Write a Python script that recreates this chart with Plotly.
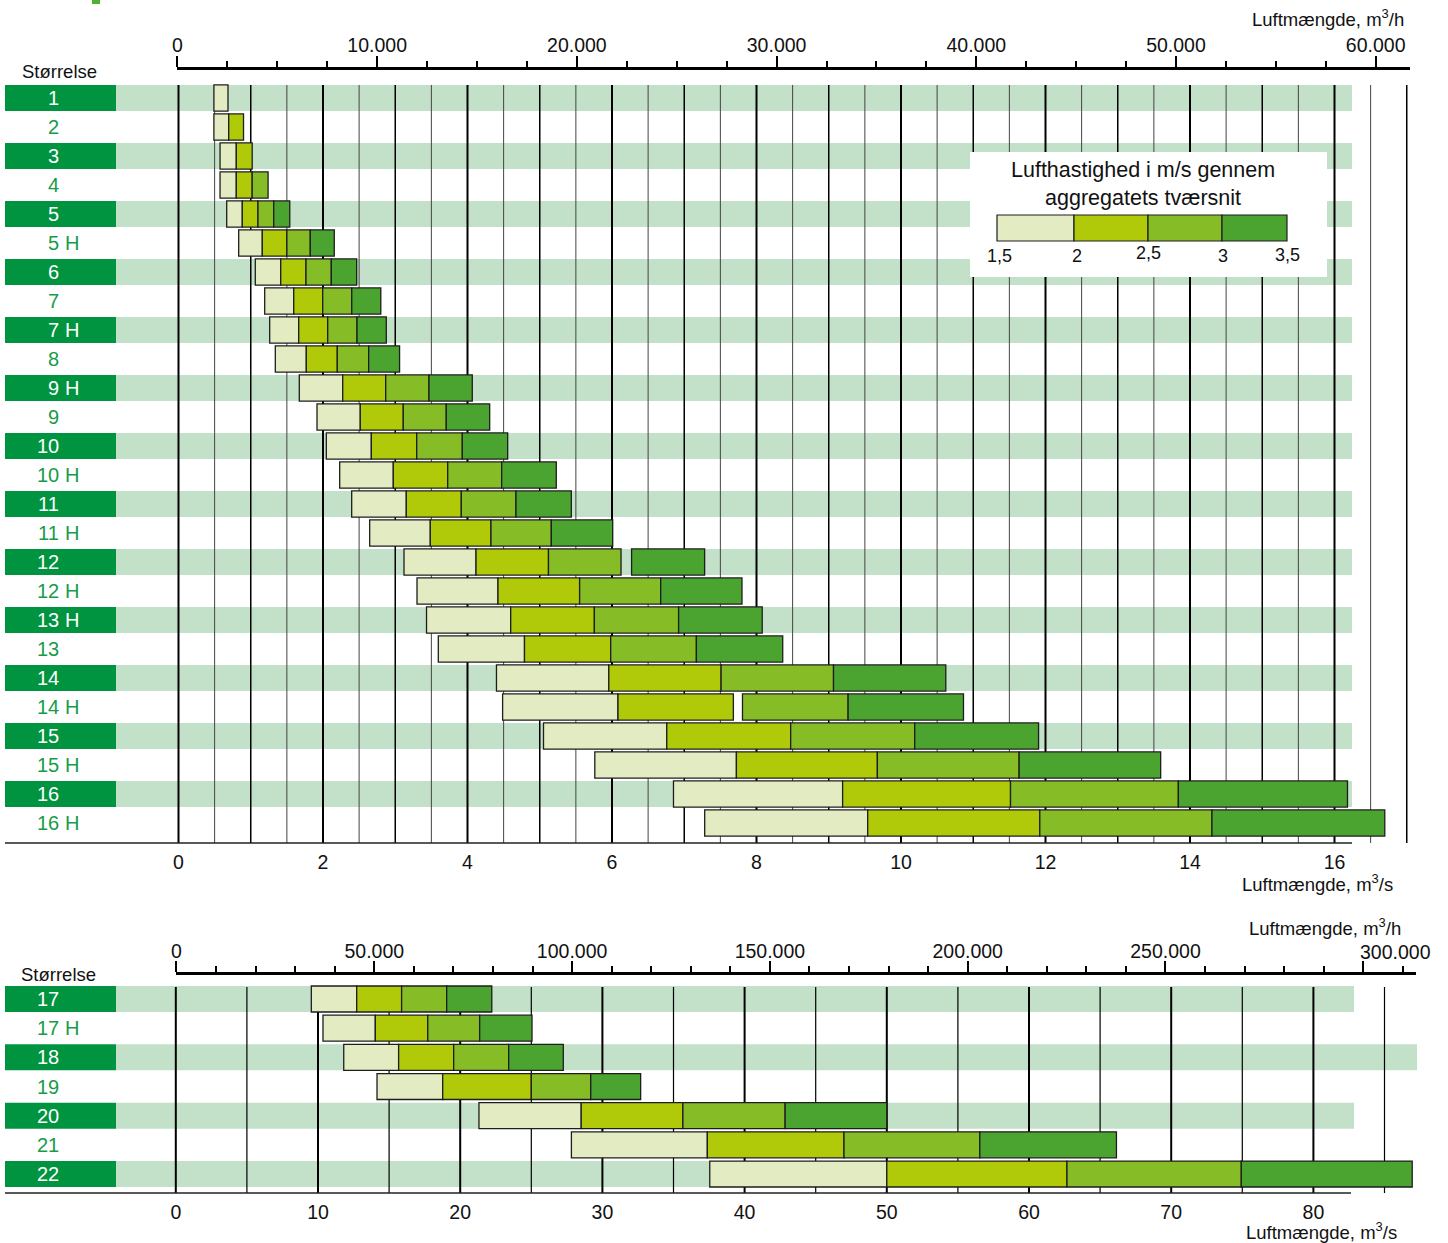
import plotly.graph_objects as go

W, H = 1448, 1243
FONT = "Liberation Sans, Arial, Helvetica, sans-serif"

# ---------------- colours ----------------
C_BAND = ["#E2EBC1", "#B0CA0A", "#86BC25", "#4BA330"]
C_BOX = "#009440"
C_STRIPE = "#C3E0C8"
C_LABEL = "#169C48"
C_EDGE = "#1e1e1e"

# ---------------- data ----------------
band_names = ["1,5–2 m/s", "2–2,5 m/s", "2,5–3 m/s", "3–3,5 m/s"]
legend_labels = ["1,5", "2", "2,5", "3", "3,5"]

# top panel: sizes 1 .. 16 H, flow in m³/s at each velocity band edge
sizes_top = ["1", "2", "3", "4", "5", "5 H", "6", "7", "7 H", "8", "9 H", "9", "10", "10 H",
             "11", "11 H", "12", "12 H", "13 H", "13", "14", "14 H", "15", "15 H", "16", "16 H"]
top_start_15 = [0.49, 0.49, 0.575, 0.575, 0.667, 0.833, 1.063, 1.193, 1.262, 1.340, 1.672, 1.917, 2.046,
                2.231, 2.397, 2.646, 3.121, 3.301, 3.433, 3.596, 4.401, 4.486, 5.052, 5.762, 6.851, 7.283]
top_end_15 = [0.685, 0.695, 0.80, 0.80, 0.883, 1.16, 1.415, 1.595, 1.664, 1.769, 2.273, 2.516, 2.669,
              2.973, 3.153, 3.485, 4.118, 4.422, 4.598, 4.789, 5.956, 6.083, 6.758, 7.722, 9.192, 9.539]
top_start_20 = [None, 0.695, 0.80, 0.80, 0.883, 1.16, 1.415, 1.595, 1.664, 1.769, 2.273, 2.516, 2.669,
                2.973, 3.153, 3.485, 4.118, 4.422, 4.598, 4.789, 5.956, 6.083, 6.758, 7.722, 9.192, 9.539]
top_end_20 = [None, 0.90, 1.02, 1.02, 1.10, 1.50, 1.765, 1.996, 2.065, 2.198, 2.868, 3.111, 3.297,
              3.726, 3.914, 4.325, 5.121, 5.552, 5.756, 5.982, 7.510, 7.680, 8.473, 9.673, 11.516, 11.921]
top_start_25 = [None, None, None, 1.02, 1.10, 1.50, 1.765, 1.996, 2.065, 2.198, 2.868, 3.111, 3.297,
                3.726, 3.914, 4.325, 5.121, 5.552, 5.756, 5.982, 7.510, 7.806, 8.473, 9.673, 11.516, 11.921]
top_end_25 = [None, None, None, 1.24, 1.318, 1.824, 2.115, 2.398, 2.471, 2.632, 3.467, 3.706, 3.928,
              4.473, 4.671, 5.160, 6.125, 6.674, 6.922, 7.168, 9.066, 9.268, 10.190, 11.635, 13.839, 14.304]
top_start_30 = [None, None, None, None, 1.318, 1.824, 2.115, 2.398, 2.471, 2.632, 3.467, 3.706, 3.928,
                4.473, 4.671, 5.160, 6.271, 6.674, 6.922, 7.168, 9.066, 9.268, 10.190, 11.635, 13.839, 14.304]
top_end_30 = [None, None, None, None, 1.54, 2.156, 2.466, 2.80, 2.876, 3.06, 4.066, 4.307, 4.556,
              5.229, 5.437, 6.010, 7.282, 7.799, 8.079, 8.363, 10.620, 10.865, 11.904, 13.594, 16.180, 16.696]

# bottom panel: sizes 17 .. 22
sizes_bot = ["17", "17 H", "18", "19", "20", "21", "22"]
bot_start_15 = [9.53, 10.35, 11.81, 14.15, 21.32, 27.82, 37.55]
bot_end_15 = [12.72, 14.03, 15.67, 18.77, 28.51, 37.38, 50.0]
bot_start_20 = [12.72, 14.03, 15.67, 18.77, 28.51, 37.38, 50.0]
bot_end_20 = [15.88, 17.72, 19.54, 25.0, 35.66, 46.99, 62.67]
bot_start_25 = [15.88, 17.72, 19.54, 25.0, 35.66, 46.99, 62.67]
bot_end_25 = [19.05, 21.37, 23.41, 29.18, 42.85, 56.54, 74.93]
bot_start_30 = [19.05, 21.37, 23.41, 29.18, 42.85, 56.54, 74.93]
bot_end_30 = [22.22, 25.05, 27.25, 32.69, 50.0, 66.15, 86.95]

# axis ticks
top_ms_ticks = [0, 2, 4, 6, 8, 10, 12, 14, 16]
top_mh_ticks = [0, 10000, 20000, 30000, 40000, 50000, 60000]
top_mh_labels = ["0", "10.000", "20.000", "30.000", "40.000", "50.000", "60.000"]
bot_ms_ticks = [0, 10, 20, 30, 40, 50, 60, 70, 80]
bot_mh_ticks = [0, 50000, 100000, 150000, 200000, 250000, 300000]
bot_mh_labels = ["0", "50.000", "100.000", "150.000", "200.000", "250.000", ""]
bot_mh_last_label = "300.000"

# ---------------- geometry (target pixels of the 1448x1243 picture) ----------------
TX0, TSC = 178.5, 72.25      # top panel: px of 0 m³/s, px per m³/s
BX0, BSC = 175.8, 14.22      # bottom panel
TROW0, TROWH = 98.0, 29.0    # top panel row centre / pitch
BROW0, BROWH = 999.0, 29.17  # bottom panel
S_LEFT, S_SCALE = 5.0, 0.99655   # observed horizontal placement of the page in the photo
S_RIGHT = S_LEFT + S_SCALE * W


def sx(x):
    return (x - S_LEFT) / S_SCALE


def px(x):
    return sx(x) / W


def py(y):
    return 1 - y / H


def seg(starts, ends):
    return [None if (s is None or e is None) else e - s for s, e in zip(starts, ends)]


fig = go.Figure()

top_bands = [(top_start_15, top_end_15), (top_start_20, top_end_20),
             (top_start_25, top_end_25), (top_start_30, top_end_30)]
bot_bands = [(bot_start_15, bot_end_15), (bot_start_20, bot_end_20),
             (bot_start_25, bot_end_25), (bot_start_30, bot_end_30)]

for k, (s, e) in enumerate(top_bands):
    fig.add_trace(go.Bar(orientation="h", y=list(range(len(sizes_top))), base=s, x=seg(s, e),
                         width=0.9, name=band_names[k], xaxis="x", yaxis="y",
                         marker=dict(color=C_BAND[k], line=dict(color=C_EDGE, width=1.3)),
                         showlegend=False, hoverinfo="skip"))
for k, (s, e) in enumerate(bot_bands):
    fig.add_trace(go.Bar(orientation="h", y=list(range(len(sizes_bot))), base=s, x=seg(s, e),
                         width=0.89, name=band_names[k], xaxis="x2", yaxis="y2",
                         marker=dict(color=C_BAND[k], line=dict(color=C_EDGE, width=1.3)),
                         showlegend=False, hoverinfo="skip"))

# invisible anchors so the m³/h axes get drawn
fig.add_trace(go.Scatter(x=[1000], y=[0], xaxis="x3", yaxis="y", mode="markers",
                         marker=dict(opacity=0), hoverinfo="skip", showlegend=False))
fig.add_trace(go.Scatter(x=[1000], y=[0], xaxis="x4", yaxis="y2", mode="markers",
                         marker=dict(opacity=0), hoverinfo="skip", showlegend=False))

shapes = []
annotations = []


def panel_rows(sizes, yref, half, stripe_right):
    for i, s in enumerate(sizes):
        dark = (i % 2 == 0)
        if dark:
            shapes.append(dict(type="rect", xref="paper", yref=yref, x0=px(116), x1=px(stripe_right[i]),
                               y0=i - half, y1=i + half, fillcolor=C_STRIPE, line=dict(width=0), layer="below"))
            shapes.append(dict(type="rect", xref="paper", yref=yref, x0=px(5), x1=px(116),
                               y0=i - half, y1=i + half, fillcolor=C_BOX, line=dict(width=0), layer="below"))
        col = "white" if dark else C_LABEL
        parts = s.split(" ")
        annotations.append(dict(text=parts[0], xref="paper", yref=yref, x=px(61), y=i,
                                xanchor="right", yanchor="middle", showarrow=False,
                                font=dict(size=20, color=col, family=FONT)))
        if len(parts) > 1:
            annotations.append(dict(text=parts[1], xref="paper", yref=yref, x=px(63), y=i,
                                    xanchor="left", yanchor="middle", showarrow=False,
                                    font=dict(size=20, color=col, family=FONT)))


panel_rows(sizes_top, "y", 0.45, [1352] * len(sizes_top))
panel_rows(sizes_bot, "y2", 0.445, [1354, 1354, 1417, 1354, 1354, 1354, 1354])

# vertical grid lines (drawn over stripes, under bars)
for k in range(35):
    v = k * 0.5
    if v == int(v):
        wdt, col = (2.0 if int(v) % 2 == 0 else 1.5), "#000000"
    else:
        wdt, col = 1.0, "#444444"
    shapes.append(dict(type="line", xref="x", yref="paper", x0=v, x1=v, y0=py(843), y1=py(85),
                       line=dict(color=col, width=wdt), layer="below"))
for k in range(18):
    v = k * 5
    wdt = 2.0 if v % 10 == 0 else 1.2
    shapes.append(dict(type="line", xref="x2", yref="paper", x0=v, x1=v, y0=py(1193), y1=py(987),
                       line=dict(color="#000000", width=wdt), layer="below"))

# bottom axis lines
shapes.append(dict(type="line", xref="paper", yref="paper", x0=px(5), x1=px(1352), y0=py(843), y1=py(843),
                   line=dict(color="#222222", width=1.6), layer="below"))
shapes.append(dict(type="line", xref="paper", yref="paper", x0=px(5), x1=px(1351), y0=py(1193), y1=py(1193),
                   line=dict(color="#222222", width=1.6), layer="below"))

# small green mark top-left
shapes.append(dict(type="rect", xref="paper", yref="paper", x0=px(92), x1=px(100), y0=py(4), y1=py(0),
                   fillcolor="#52AE34", line=dict(width=0), layer="above"))

# legend box
shapes.append(dict(type="rect", xref="paper", yref="paper", x0=px(970), x1=px(1327), y0=py(277), y1=py(152),
                   fillcolor="white", line=dict(width=0), layer="above"))
leg_x = [997, 1074, 1148, 1222, 1287]
for k in range(4):
    shapes.append(dict(type="rect", xref="paper", yref="paper", x0=px(leg_x[k]), x1=px(leg_x[k + 1]),
                       y0=py(241), y1=py(215), fillcolor=C_BAND[k],
                       line=dict(color=C_EDGE, width=1.2), layer="above"))
annotations.append(dict(text="Lufthastighed i m/s gennem<br>aggregatets tværsnit", xref="paper", yref="paper",
                        x=px(1143), y=py(184), xanchor="center", yanchor="middle", showarrow=False,
                        font=dict(size=21.5, color="#111111", family=FONT)))
leg_lab_x = [1000, 1077, 1149, 1223, 1288]
leg_lab_y = [256, 256, 253, 256, 255]
for k, t in enumerate(legend_labels):
    annotations.append(dict(text=t, xref="paper", yref="paper", x=px(leg_lab_x[k]), y=py(leg_lab_y[k]),
                            xanchor="center", yanchor="middle", showarrow=False,
                            font=dict(size=18, color="#111111", family=FONT)))

# texts
for (t, x, y, xa) in [("Størrelse", 60, 72, "center"), ("Størrelse", 59, 974, "center"),
                      ("Luftmængde, m<sup>3</sup>/h", 1406, 18, "right"),
                      ("Luftmængde, m<sup>3</sup>/s", 1395, 883, "right"),
                      ("Luftmængde, m<sup>3</sup>/h", 1403, 927, "right"),
                      ("Luftmængde, m<sup>3</sup>/s", 1399, 1231, "right")]:
    annotations.append(dict(text=t, xref="paper", yref="paper", x=px(x), y=py(y), xanchor=xa,
                            yanchor="middle", showarrow=False, font=dict(size=18.5, color="#111111", family=FONT)))
# last m³/h label of the lower panel sits to the right of its tick
annotations.append(dict(text=bot_mh_last_label, xref="paper", yref="paper", x=px(1396), y=py(952),
                        xanchor="center", yanchor="middle", showarrow=False,
                        font=dict(size=19.5, color="#111111", family=FONT)))

tickfont = dict(size=19.5, color="#111111", family=FONT)
hidden_y = dict(showticklabels=False, showgrid=False, zeroline=False, showline=False, ticks="")

fig.update_layout(
    width=W, height=H, margin=dict(l=0, r=0, t=0, b=0),
    paper_bgcolor="white", plot_bgcolor="rgba(0,0,0,0)",
    barmode="overlay", showlegend=False, font=dict(family=FONT, size=19, color="#111111"),
    xaxis=dict(domain=[0, 1], range=[(S_LEFT - TX0) / TSC, (S_RIGHT - TX0) / TSC], anchor="y",
               tickmode="array", tickvals=top_ms_ticks, ticktext=[str(v) for v in top_ms_ticks],
               ticks="", showline=False, showgrid=False, zeroline=False, tickfont=tickfont,
               ticklabelstandoff=5),
    yaxis=dict(domain=[py(843), py(70)], range=[(843 - TROW0) / TROWH, (70 - TROW0) / TROWH], **hidden_y),
    xaxis3=dict(domain=[px(177.5), px(1410)], range=[0, (1410 - 177.5) / 0.01997], anchor="y", side="top",
                tickmode="array", tickvals=top_mh_ticks, ticktext=top_mh_labels,
                ticks="outside", ticklen=11, tickwidth=2, tickcolor="black",
                showline=True, linewidth=3, linecolor="black", showgrid=False, zeroline=False,
                tickfont=tickfont, ticklabelstandoff=-4,
                minor=dict(tickmode="linear", tick0=0, dtick=2500, ticks="outside", ticklen=6,
                           tickwidth=1.5, tickcolor="black", showgrid=False)),
    xaxis2=dict(domain=[0, 1], range=[(S_LEFT - BX0) / BSC, (S_RIGHT - BX0) / BSC], anchor="y2",
                tickmode="array", tickvals=bot_ms_ticks, ticktext=[str(v) for v in bot_ms_ticks],
                ticks="", showline=False, showgrid=False, zeroline=False, tickfont=tickfont,
                ticklabelstandoff=5),
    yaxis2=dict(domain=[py(1193), py(975)], range=[(1193 - BROW0) / BROWH, (975 - BROW0) / BROWH], **hidden_y),
    xaxis4=dict(domain=[px(176.5), px(1416)], range=[0, (1416 - 176.5) / 0.003956], anchor="y2", side="top",
                tickmode="array", tickvals=bot_mh_ticks, ticktext=bot_mh_labels,
                ticks="outside", ticklen=11, tickwidth=2, tickcolor="black",
                showline=True, linewidth=3, linecolor="black", showgrid=False, zeroline=False,
                tickfont=tickfont, ticklabelstandoff=-5,
                minor=dict(tickmode="linear", tick0=0, dtick=10000, ticks="outside", ticklen=6,
                           tickwidth=1.5, tickcolor="black", showgrid=False)),
    shapes=shapes, annotations=annotations,
)

fig.write_html("out.html", config={"displayModeBar": False})

# remove the browser's default page margin so the figure fills the window exactly
with open("out.html", "r", encoding="utf-8") as f:
    html = f.read()
html = html.replace("<head>", "<head><style>html,body{margin:0;padding:0;overflow:hidden;}</style>", 1)
with open("out.html", "w", encoding="utf-8") as f:
    f.write(html)
